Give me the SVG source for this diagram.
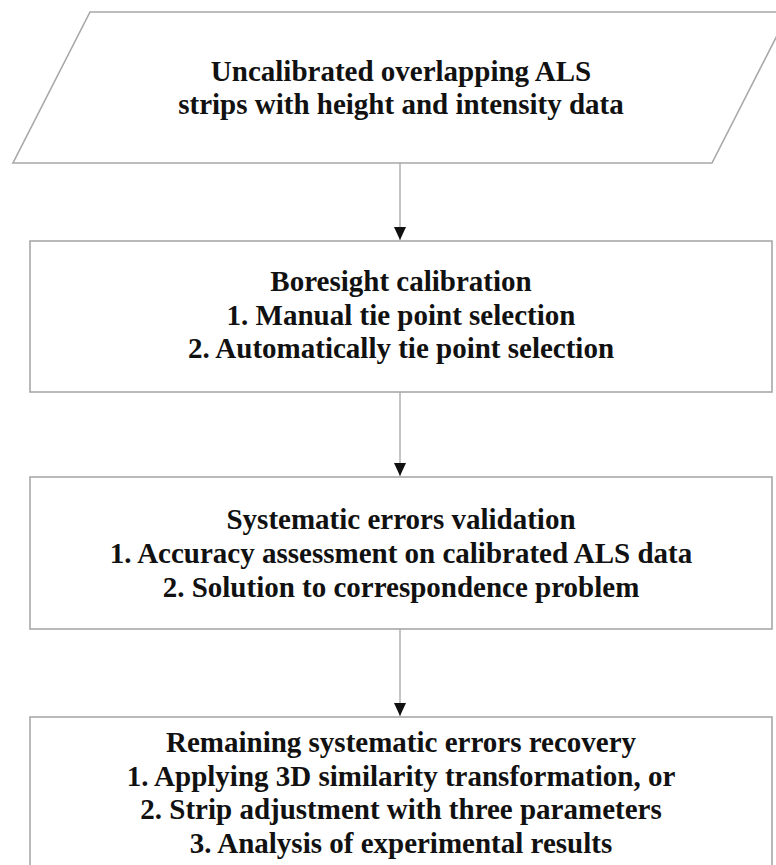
<svg xmlns="http://www.w3.org/2000/svg" width="776" height="865" viewBox="0 0 776 865">
<style>
.box{fill:#fff;stroke:#a8a8a8;stroke-width:1.6}
.t{font-family:"Liberation Serif","Times New Roman",serif;font-weight:bold;font-size:29px;fill:#111;text-anchor:middle}
.c{stroke:#c4c4c4;stroke-width:2;fill:none}
</style>
<defs>
<marker id="ah" markerWidth="13" markerHeight="12" refX="13" refY="6" orient="auto" markerUnits="userSpaceOnUse" viewBox="0 0 13 12">
<path d="M0,0 L13,6 L0,12 Z" fill="#111"/>
</marker>
</defs>
<rect width="776" height="865" fill="#fff"/>
<g id="connectors">
<line class="c" x1="400" y1="163" x2="400" y2="240" marker-end="url(#ah)"/>
<line class="c" x1="400" y1="392" x2="400" y2="476" marker-end="url(#ah)"/>
<line class="c" x1="400" y1="629" x2="400" y2="716" marker-end="url(#ah)"/>
</g>
<g id="input">
<polygon class="box" points="90,12 789,12 712,163 13,163"/>
<text class="t" x="401" y="81">Uncalibrated overlapping ALS</text>
<text class="t" x="401" y="114">strips with height and intensity data</text>
</g>
<g id="boresight">
<rect class="box" x="30" y="241" width="742" height="151"/>
<text class="t" x="401" y="291">Boresight calibration</text>
<text class="t" x="401" y="325">1. Manual tie point selection</text>
<text class="t" x="401" y="358">2. Automatically tie point selection</text>
</g>
<g id="validation">
<rect class="box" x="30" y="477" width="742" height="152"/>
<text class="t" x="401" y="529">Systematic errors validation</text>
<text class="t" x="401" y="563">1. Accuracy assessment on calibrated ALS data</text>
<text class="t" x="401" y="597">2. Solution to correspondence problem</text>
</g>
<g id="recovery">
<rect class="box" x="30" y="717" width="742" height="160"/>
<text class="t" x="401" y="752">Remaining systematic errors recovery</text>
<text class="t" x="401" y="786">1. Applying 3D similarity transformation, or</text>
<text class="t" x="401" y="819">2. Strip adjustment with three parameters</text>
<text class="t" x="401" y="853">3. Analysis of experimental results</text>
</g>
</svg>
